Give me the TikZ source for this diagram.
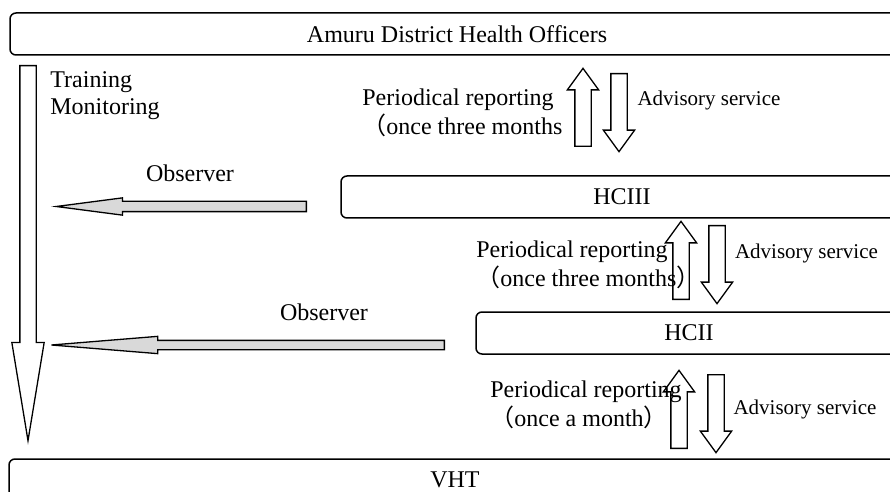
\documentclass[tikz,border=0pt]{standalone}
\usepackage{fontspec}
\setmainfont{Liberation Serif}
\newfontfamily\cjk{Noto Sans CJK SC}
\usetikzlibrary{shapes.arrows}
\definecolor{obsgray}{HTML}{D9D9D9}

\begin{document}
\begin{tikzpicture}[
  x=0.5pt,y=-0.5pt,
  font=\fontsize{12}{14.5}\selectfont,
  level/.style={draw,line width=0.75pt,rounded corners=3pt,minimum height=21pt,
                inner sep=0pt},
  blk/.style={single arrow,draw,line width=0.65pt,fill=white,inner sep=3.75pt,
              single arrow head extend=3.75pt,single arrow tip angle=72,
              minimum height=39pt},
  obsarrow/.style={single arrow,draw,line width=0.65pt,fill=obsgray,
                   shape border rotate=180,anchor=tail},
  lbl/.style={inner sep=0pt,align=left,anchor=west},
  advlbl/.style={inner sep=0pt,font=\fontsize{10.5}{12}\selectfont},
]
\useasboundingbox (0,0) rectangle (890,492);
\clip (0,0) rectangle (890,492);

% The four levels; boxes run past the right edge.
\node[level,minimum width=447pt] (dho)   at (457,34)  {Amuru District Health Officers};
\node[level,minimum width=281pt] (hciii) at (622,197) {HCIII};
\node[level,minimum width=213pt] (hcii)  at (689,333) {HCII};
\node[level,minimum width=446pt] (vht)   at (455,480) {VHT};

% Training / monitoring down the left side.
\node[blk,shape border rotate=270,anchor=tail,minimum height=187.5pt,
      single arrow head extend=4pt,single arrow tip angle=18.7] (train) at (28,65) {};
\node[lbl,font=\fontsize{12}{13.5}\selectfont] (trainlbl) at (50,96) {Training\\Monitoring};

% Observer arrows.
\node[obsarrow,minimum height=125pt,inner sep=2.25pt,
      single arrow head extend=1.75pt,single arrow tip angle=14.9] (obs1) at (307,206.5) {};
\node[obsarrow,minimum height=196.5pt,inner sep=2pt,
      single arrow head extend=2pt,single arrow tip angle=9.3] (obs2) at (445,345) {};
\node[inner sep=0pt] (obs1lbl) at (190,173) {Observer};
\node[inner sep=0pt] (obs2lbl) at (324,312) {Observer};

% Reporting up, advice down, between each pair of levels.
\foreach \n/\ux/\uy/\dx/\dy in {1/583/147/619/73, 2/681/300/717/225, 3/679/449/716/374} {
  \node[blk,shape border rotate=90,anchor=tail] (rep\n) at (\ux,\uy) {};
  \node[blk,shape border rotate=270,anchor=tail] (adv\n) at (\dx,\dy) {};
}

\node[lbl] (rep1lbl) at (362,113) {Periodical reporting\\{\cjk （}once three months};
\node[lbl] (rep2lbl) at (476,265) {Periodical reporting\\{\cjk （}once three months{\cjk ）}};
\node[lbl] (rep3lbl) at (490,405) {Periodical reporting\\{\cjk （}once a month{\cjk ）}};

\node[advlbl] (adv1lbl) at (709,100)   {Advisory service};
\node[advlbl] (adv2lbl) at (806.5,253) {Advisory service};
\node[advlbl] (adv3lbl) at (805,409)   {Advisory service};

\end{tikzpicture}
\end{document}
